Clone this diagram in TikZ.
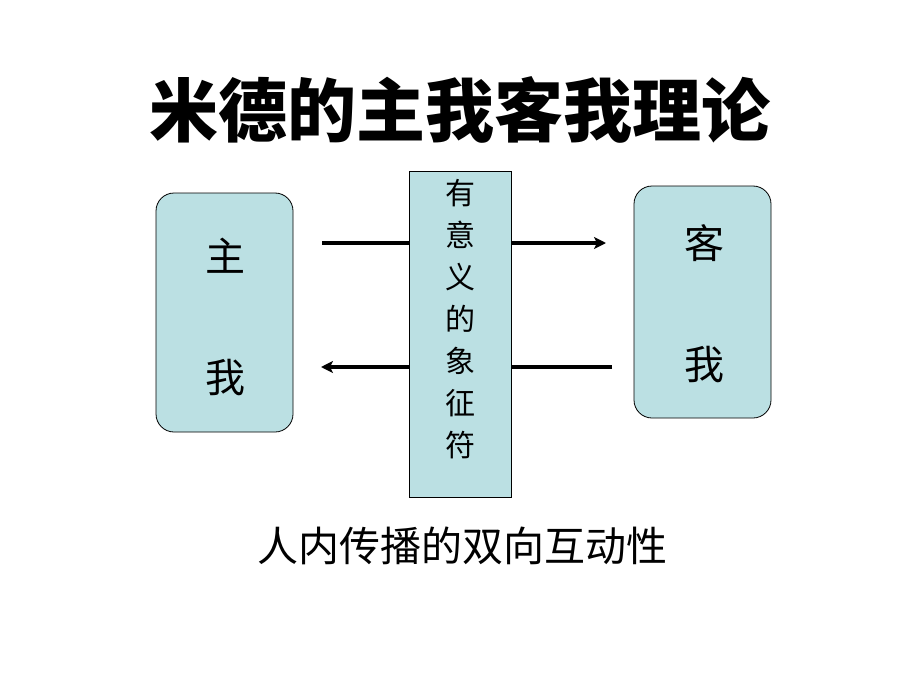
\documentclass[tikz,border=0pt]{standalone}
\usepackage{fontspec}
\newfontfamily\cjk{Noto Sans CJK SC}
\usepackage{tikz}
\usetikzlibrary{arrows.meta,positioning}
\usepackage{xcolor}
\definecolor{boxcyan}{HTML}{BBE0E3}

\begin{document}
\begin{tikzpicture}[x=1pt,y=-1pt,font=\cjk]
	\useasboundingbox (0,0) rectangle (920,690);
	\node (title) at (460,110) {\fontsize{69}{74}\selectfont\bfseries 米德的主我客我理论};
	% arrows behind the middle box
	\coordinate (a1) at (322,243);
	\coordinate (a2) at (606,243);
	\coordinate (b1) at (612,367);
	\coordinate (b2) at (321,367);
	\draw[line width=4pt,-{Stealth[length=12pt,width=12pt,inset=3pt]}] (a1) -- (a2);
	\draw[line width=4pt,-{Stealth[length=12pt,width=12pt,inset=3pt]}] (b1) -- (b2);
	\begin{scope}[every node/.style={draw,fill=boxcyan,inner sep=0pt,line width=0.8pt}]
		\node[rounded corners=18pt,minimum width=137pt,minimum height=239pt] (zhuwo) at (224.5,312.5) {};
		\node[rounded corners=18pt,minimum width=137pt,minimum height=232pt] (kewo) at (702.5,302) {};
		\node[minimum width=102pt,minimum height=326pt] (fuhao) at (460,334) {};
	\end{scope}
	\begin{scope}[every node/.style={font=\cjk\fontsize{40}{44}\selectfont}]
		\node (zhu) at (225,256) {主};
		\node (wo1) at (225,378) {我};
		\node (ke) at (704,243) {客};
		\node (wo2) at (704,365) {我};
	\end{scope}
	\node[align=center,font=\cjk\fontsize{30}{42}\selectfont,anchor=north] (mid) at (460,176) {有\\意\\义\\的\\象\\征\\符};
	\node (sub) at (462,546) {\fontsize{41}{45}\selectfont 人内传播的双向互动性};
\end{tikzpicture}
\end{document}
